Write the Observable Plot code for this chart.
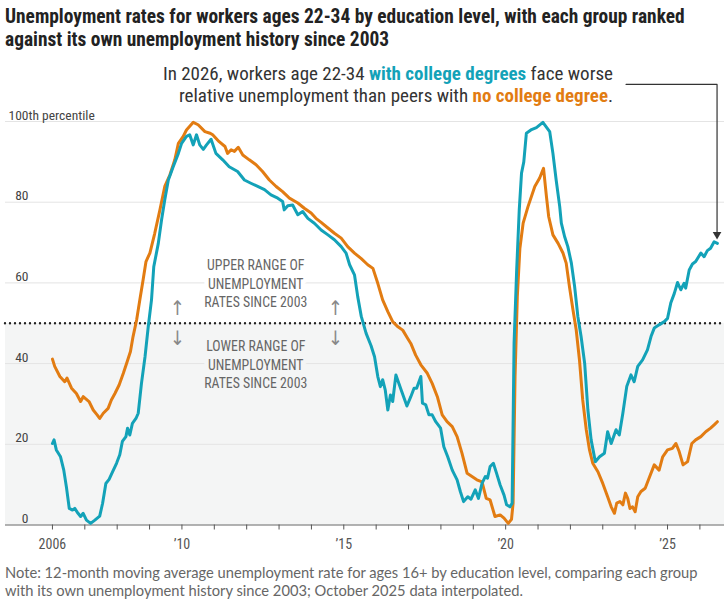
<!DOCTYPE html>
<html><head><meta charset="utf-8">
<script src="https://cdn.jsdelivr.net/npm/d3@7"></script>
<script src="https://cdn.jsdelivr.net/npm/@observablehq/plot@0.6"></script>
<style>
body{margin:0;background:#fff;}
#wrap{width:727px;position:relative;}
.cond{font-family:"Roboto Condensed","DejaVu Sans Condensed","Liberation Sans Narrow",Roboto,sans-serif;}
#title{height:56px;box-sizing:border-box;padding:5px 0 0 5px;font-weight:700;font-size:19.4px;line-height:23px;color:#222;white-space:nowrap;}
#annot{position:absolute;top:63px;right:114px;text-align:right;font-size:19px;line-height:22px;color:#333;white-space:nowrap;}
#annot b.c{color:#13a2b8;}
#annot b.n{color:#e27c12;}
#note{padding:3px 0 0 5px;font-family:Lato,"Open Sans",sans-serif;font-size:14.7px;line-height:18px;color:#666;white-space:nowrap;}
</style></head>
<body><div id="wrap">
<div id="title" class="cond">Unemployment rates for workers ages 22-34 by education level, with each group ranked<br>against its own unemployment history since 2003</div>
<div id="annot" class="cond">In 2026, workers age 22-34 <b class="c">with college degrees</b> face worse<br>relative unemployment than peers with <b class="n">no college degree</b>.</div>
<div id="chart"></div>
<div id="note">Note: 12-month moving average unemployment rate for ages 16+ by education level, comparing each group<br>with its own unemployment history since 2003; October 2025 data interpolated.</div>
</div>
<script>
// [year, percentile]
const college = [
[2006.00,20.2],[2006.05,21.1],[2006.12,18.6],[2006.25,16.9],[2006.35,13.6],[2006.43,9.5],[2006.52,4.1],[2006.62,3.7],[2006.69,4.1],[2006.79,2.9],[2006.87,2.1],[2006.95,2.9],
[2007.05,1.2],[2007.18,0.4],[2007.31,1.2],[2007.46,2.2],[2007.55,5.4],[2007.65,10.3],[2007.75,11.3],[2007.86,13.2],[2007.98,15.3],
[2008.08,17.4],[2008.16,20.7],[2008.27,21.9],[2008.32,24.0],[2008.39,22.3],[2008.47,25.2],[2008.58,26.4],[2008.65,27.7],[2008.75,35.1],[2008.86,41.7],[2008.96,49.2],
[2009.06,55.8],[2009.13,64.0],[2009.27,69.8],[2009.37,75.6],[2009.47,80.6],[2009.58,85.5],[2009.73,88.8],[2009.89,92.1],[2009.99,94.6],
[2010.14,96.3],[2010.24,96.7],[2010.35,94.2],[2010.45,96.7],[2010.55,94.2],[2010.66,93.1],[2010.76,94.2],[2010.90,95.6],
[2011.05,92.1],[2011.26,90.5],[2011.46,88.8],[2011.72,87.6],[2011.93,85.5],[2012.13,84.7],[2012.34,83.9],[2012.55,83.1],[2012.75,81.8],[2012.96,81.0],
[2013.11,80.2],[2013.16,78.1],[2013.27,79.1],[2013.42,79.3],[2013.58,76.9],[2013.73,77.7],[2013.89,76.0],[2014.09,74.8],[2014.30,73.1],[2014.51,71.9],[2014.71,70.7],[2014.92,69.0],
[2015.07,67.4],[2015.18,64.5],[2015.33,62.0],[2015.43,56.6],[2015.54,51.7],[2015.69,47.5],[2015.84,44.5],[2015.95,41.7],
[2016.05,36.8],[2016.13,34.3],[2016.20,36.0],[2016.28,33.5],[2016.36,28.5],[2016.44,32.2],[2016.51,30.6],[2016.61,37.2],[2016.77,33.5],[2016.95,29.5],
[2017.07,31.8],[2017.17,33.9],[2017.25,33.9],[2017.38,36.8],[2017.43,30.2],[2017.53,29.8],[2017.63,27.3],[2017.73,27.3],[2017.84,25.6],[2017.99,24.0],
[2018.09,19.4],[2018.21,16.9],[2018.35,13.6],[2018.50,11.2],[2018.60,8.3],[2018.70,5.8],[2018.83,7.0],[2018.93,6.4],
[2019.06,8.7],[2019.16,6.6],[2019.27,10.3],[2019.37,12.0],[2019.44,11.6],[2019.52,14.5],[2019.62,15.3],[2019.72,12.8],[2019.83,9.9],[2019.95,7.4],
[2020.03,5.0],[2020.13,4.5],[2020.20,5.4],[2020.26,45.0],[2020.34,63.2],[2020.42,78.1],[2020.49,87.2],[2020.56,90.0],[2020.64,97.1],[2020.80,98.0],[2020.95,98.5],
[2021.15,99.8],[2021.36,97.5],[2021.46,92.1],[2021.56,85.5],[2021.67,78.9],[2021.72,74.8],[2021.82,71.5],[2021.92,69.0],
[2022.03,64.9],[2022.13,59.1],[2022.23,51.7],[2022.33,46.7],[2022.44,40.1],[2022.54,28.5],[2022.64,21.1],[2022.77,15.7],[2022.90,16.9],
[2023.05,17.8],[2023.15,23.1],[2023.26,20.2],[2023.41,23.6],[2023.51,22.3],[2023.62,27.7],[2023.74,34.3],[2023.87,37.2],[2023.97,35.5],
[2024.08,39.3],[2024.23,40.9],[2024.38,43.4],[2024.49,46.7],[2024.59,48.8],[2024.74,49.6],[2024.90,50.4],
[2025.00,51.2],[2025.10,55.0],[2025.21,57.4],[2025.31,60.1],[2025.41,58.3],[2025.51,59.9],[2025.56,58.7],[2025.67,63.2],[2025.77,64.7],[2025.87,65.3],
[2026.03,67.4],[2026.13,66.5],[2026.23,68.0],[2026.33,68.6],[2026.44,70.2],[2026.54,69.8]
];
const noCollege = [
[2006.00,41.1],[2006.07,39.3],[2006.23,36.8],[2006.38,35.5],[2006.45,36.4],[2006.59,33.9],[2006.74,32.6],[2006.87,30.6],[2006.95,31.8],
[2007.13,30.6],[2007.26,28.5],[2007.38,27.3],[2007.46,26.4],[2007.57,27.7],[2007.72,28.9],[2007.82,31.0],[2007.93,32.6],
[2008.06,34.7],[2008.19,37.6],[2008.31,40.5],[2008.41,43.0],[2008.49,46.7],[2008.60,50.8],[2008.70,55.8],[2008.80,60.7],[2008.89,65.3],
[2009.01,67.4],[2009.16,72.3],[2009.32,78.1],[2009.47,83.9],[2009.63,86.8],[2009.78,90.5],[2009.89,94.6],
[2010.04,96.3],[2010.14,97.9],[2010.35,99.8],[2010.50,99.2],[2010.71,97.5],[2010.87,97.1],[2010.95,96.7],
[2011.15,95.0],[2011.33,93.8],[2011.41,92.1],[2011.52,93.0],[2011.62,92.6],[2011.74,93.6],[2011.88,91.7],
[2012.08,90.5],[2012.29,89.3],[2012.49,87.6],[2012.70,85.5],[2012.91,83.9],[2013.11,82.6],[2013.32,81.0],[2013.58,79.8],[2013.78,78.5],[2013.99,77.3],
[2014.14,76.0],[2014.30,75.0],[2014.51,73.6],[2014.71,72.3],[2014.92,71.1],[2015.12,69.0],[2015.33,67.4],[2015.54,66.0],[2015.74,64.5],[2015.90,63.6],
[2016.05,59.9],[2016.20,55.8],[2016.36,52.9],[2016.51,50.4],[2016.66,49.2],[2016.82,48.3],[2016.97,46.3],
[2017.07,45.0],[2017.22,42.1],[2017.38,39.7],[2017.58,37.6],[2017.73,35.1],[2017.89,31.8],
[2018.04,27.3],[2018.19,25.6],[2018.35,24.4],[2018.50,21.9],[2018.65,17.8],[2018.81,12.8],[2018.96,12.0],
[2019.11,11.2],[2019.27,10.7],[2019.40,6.6],[2019.52,6.2],[2019.67,2.1],[2019.83,2.5],[2019.95,1.7],
[2020.08,0.4],[2020.18,1.4],[2020.23,5.4],[2020.29,36.8],[2020.36,56.6],[2020.44,68.6],[2020.54,74.8],[2020.69,78.9],[2020.90,83.9],
[2021.05,86.0],[2021.17,88.4],[2021.26,81.4],[2021.33,76.4],[2021.46,71.9],[2021.62,69.8],[2021.77,67.4],[2021.87,64.9],[2021.97,59.1],
[2022.08,53.3],[2022.18,48.3],[2022.28,40.9],[2022.38,31.0],[2022.49,23.6],[2022.59,18.6],[2022.69,15.3],[2022.85,13.2],
[2023.00,10.3],[2023.15,7.0],[2023.26,4.5],[2023.36,2.9],[2023.43,5.4],[2023.53,5.8],[2023.62,5.0],[2023.70,7.9],[2023.77,6.6],[2023.84,4.1],[2023.92,4.5],
[2024.00,3.3],[2024.08,7.0],[2024.18,8.3],[2024.31,9.1],[2024.45,12.0],[2024.59,14.9],[2024.74,13.6],[2024.85,16.9],
[2025.00,18.6],[2025.15,19.0],[2025.26,20.2],[2025.36,18.2],[2025.48,14.9],[2025.62,15.7],[2025.75,20.2],[2025.87,21.1],
[2026.03,21.9],[2026.18,23.1],[2026.33,24.0],[2026.44,24.8],[2026.54,25.6]
];
const gridValues = [20, 40, 60, 80, 100];
const yTickValues = [0, 20, 40, 60, 80, 100];
const yearTicks = d3.range(2006, 2027);
const yearLabels = new Map([[2006, "2006"], [2010, "\u201910"], [2015, "\u201915"], [2020, "\u201920"], [2025, "\u201925"]]);
const threshold = 50;
const rangeLabels = [
  {x: 2012.28, y: 60, text: "UPPER RANGE OF\nUNEMPLOYMENT\nRATES SINCE 2003", halo: "#ffffff"},
  {x: 2012.28, y: 40, text: "LOWER RANGE OF\nUNEMPLOYMENT\nRATES SINCE 2003", halo: "#f4f5f5"}
];
const rangeArrows = [
  {x: 2009.86, y: 53.7, text: "\u2191"}, {x: 2009.86, y: 46.3, text: "\u2193"},
  {x: 2014.74, y: 53.7, text: "\u2191"}, {x: 2014.74, y: 46.3, text: "\u2193"}
];
const connector = [[2023.72, 109.2], [2026.53, 109.2], [2026.53, 72.6]];
const arrowTip = [[2026.53, 72.0]];

const teal = "#13a2b8", orange = "#e27c12";
const condFont = '"Roboto Condensed","DejaVu Sans Condensed","Liberation Sans Narrow",Roboto,sans-serif';

const chart = Plot.plot({
  width: 727, height: 504,
  marginLeft: 5, marginRight: 3, marginTop: 65, marginBottom: 35.5,
  x: {domain: [2004.55, 2026.76], axis: null},
  y: {domain: [0, 100], axis: null},
  style: {fontFamily: condFont, overflow: "visible", background: "transparent"},
  marks: [
    Plot.rect([threshold], {y1: () => 0, y2: d => d, fill: "#f4f5f5"}),
    Plot.ruleY(gridValues, {stroke: "#e4e4e4", strokeWidth: 1}),
    Plot.text(rangeLabels, {x: "x", y: "y", text: "text", fontSize: 13.8, lineHeight: 1.35, fill: "#666", stroke: "halo", strokeWidth: 9}),
    Plot.text(rangeArrows, {x: "x", y: "y", text: "text", fontSize: 20, fill: "#888", fontFamily: condFont}),
    Plot.ruleY([threshold], {stroke: "#222", strokeWidth: 2.4, strokeDasharray: "0 5", strokeLinecap: "round"}),
    Plot.ruleY([0], {stroke: "#666", strokeWidth: 1.2}),
    Plot.axisX({ticks: yearTicks, tickFormat: d => yearLabels.get(d) ?? "", label: null, tickSize: 5, tickPadding: 9, fontSize: 14, color: "#555"}),
    Plot.text(yTickValues, {y: d => d, frameAnchor: "left", dx: 23, dy: -2, textAnchor: "end", lineAnchor: "bottom", text: d => String(d), fontSize: 13.5, fill: "#444"}),
    Plot.text([100], {y: d => d, frameAnchor: "left", dx: 23, dy: -2, textAnchor: "start", lineAnchor: "bottom", text: () => "th percentile", fontSize: 13.5, fill: "#444"}),
    Plot.line(noCollege, {x: d => d[0], y: d => d[1], stroke: orange, strokeWidth: 3, strokeLinejoin: "round"}),
    Plot.line(college, {x: d => d[0], y: d => d[1], stroke: teal, strokeWidth: 3, strokeLinejoin: "round"}),
    Plot.line(connector, {x: d => d[0], y: d => d[1], stroke: "#333", strokeWidth: 1.2}),
    Plot.dot(arrowTip, {x: d => d[0], y: d => d[1], symbol: "triangle", rotate: 180, r: 3.2, fill: "#333"})
  ]
});
document.getElementById("chart").appendChild(chart);
</script>
</body></html>
